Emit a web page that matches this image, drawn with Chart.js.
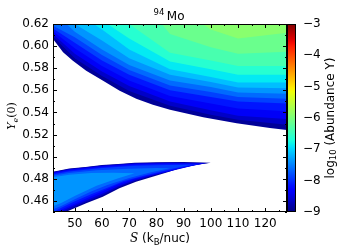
<!DOCTYPE html>
<html>
<head>
<meta charset="utf-8">
<script src="https://cdn.jsdelivr.net/npm/chart.js@4.4.1/dist/chart.umd.min.js"></script>
<style>
  html, body { margin: 0; padding: 0; background: #fff; }
  #wrap { position: relative; width: 357px; height: 250px; }
  #main { position: absolute; left: 0; top: 0; }
  #cbar { position: absolute; left: 287px; top: 0; }
</style>
</head>
<body>
<div id="wrap">
  <canvas id="main" width="357" height="250"></canvas>
  <canvas id="cbar" width="70" height="250"></canvas>
</div>
<script>
// contour levels of log10(Abundance Y) and the value used to colour each band
var levels = [-9, -8.75, -8.5, -8.25, -8, -7.75, -7.5, -7.25, -7, -6.75, -6.5, -6.25, -6];
var bandValues = [-8.875, -8.625, -8.375, -8.125, -7.875, -7.625, -7.375, -7.125, -6.875, -6.625, -6.375, -6.125, -5.9];

// upper region: contour lines as [S, Ye(0)], values rise towards the top
var u900 = [[42, 0.6064], [45.7, 0.5944], [49.3, 0.5868], [54.2, 0.5778], [60.4, 0.5687], [66.5, 0.5597], [72.6, 0.5525], [78.7, 0.5470], [85, 0.5425], [97.2, 0.5356], [109.5, 0.5302], [121.7, 0.5260], [128, 0.5242]];
var u875 = [[42, 0.6088], [50, 0.5890], [60, 0.5730], [70, 0.5595], [85, 0.5460], [100, 0.5380], [110, 0.5335], [128, 0.5290]];
var u850 = [[42, 0.6110], [50, 0.5930], [60, 0.5770], [70, 0.5640], [85, 0.5500], [100, 0.5420], [110, 0.5370], [128, 0.5340]];
var u825 = [[42, 0.6135], [50, 0.5980], [60, 0.5820], [70, 0.5690], [85, 0.5550], [100, 0.5480], [110, 0.5435], [128, 0.5410]];
var u800 = [[42, 0.6160], [50, 0.6030], [60, 0.5870], [70, 0.5740], [85, 0.5600], [100, 0.5540], [110, 0.5500], [128, 0.5480]];
var u775 = [[42, 0.6185], [50, 0.6080], [60, 0.5920], [70, 0.5785], [85, 0.5645], [100, 0.5585], [110, 0.5540], [128, 0.5525]];
var u750 = [[47, 0.6200], [50, 0.6130], [60, 0.5970], [70, 0.5830], [85, 0.5690], [100, 0.5630], [110, 0.5580], [128, 0.5570]];
var u725 = [[50, 0.6200], [60, 0.6050], [70, 0.5890], [85, 0.5740], [100, 0.5675], [110, 0.5625], [128, 0.5620]];
var u700 = [[57, 0.6200], [60, 0.6150], [70, 0.5970], [85, 0.5790], [100, 0.5720], [110, 0.5670], [128, 0.5670]];
var u675 = [[62, 0.6200], [70, 0.6070], [85, 0.5860], [100, 0.5790], [110, 0.5740], [128, 0.5740]];
var u650 = [[70, 0.6200], [85, 0.5940], [100, 0.5870], [110, 0.5820], [128, 0.5820]];
var u625 = [[82, 0.6200], [85, 0.6110], [100, 0.5990], [110, 0.5930], [128, 0.5950]];
var u600 = [[97, 0.6200], [100, 0.6150], [110, 0.6070], [128, 0.6120]];

// lower island: closed contours as [S, Ye(0)]
var l900 = [[42, 0.4865], [48, 0.4893], [54, 0.4908], [60, 0.4925], [66, 0.4935], [72, 0.4945], [80, 0.4950], [90, 0.4953], [100, 0.4946],
  [95, 0.4928], [88.5, 0.4895], [84.7, 0.4864], [78.6, 0.4819], [72.5, 0.4774], [66.4, 0.4714], [60.3, 0.4639], [54.2, 0.4578], [46.9, 0.4503], [44, 0.4470], [42, 0.4450]];
var l875 = [[42, 0.4861], [48, 0.4889], [60, 0.4920], [72, 0.4941], [85, 0.4947], [99, 0.4943],
  [94, 0.4924], [86, 0.4878], [78, 0.4826], [72, 0.4781], [66, 0.4723], [60, 0.4650], [54, 0.4590], [47, 0.4514], [44, 0.4480], [42, 0.4460]];
var l850 = [[42, 0.4856], [48, 0.4884], [60, 0.4915], [72, 0.4936], [85, 0.4943], [98, 0.4940],
  [93, 0.4917], [85, 0.4868], [78, 0.4830], [72, 0.4790], [66, 0.4735], [60, 0.4665], [54, 0.4605], [47, 0.4530], [44, 0.4495], [42, 0.4475]];
var l825 = [[42, 0.4849], [48, 0.4876], [60, 0.4907], [72, 0.4928], [84, 0.4936], [96, 0.4935],
  [90, 0.4905], [80, 0.4848], [72, 0.4800], [66, 0.4750], [60, 0.4685], [54, 0.4620], [48, 0.4555], [44, 0.4510], [42, 0.4485]];
var l800 = [[42, 0.4840], [48, 0.4866], [60, 0.4897], [72, 0.4918], [84, 0.4926], [93, 0.4927],
  [86, 0.4890], [76, 0.4832], [68, 0.4780], [62, 0.4720], [56, 0.4660], [49, 0.4585], [44, 0.4525], [42, 0.4495]];
var l775 = [[42, 0.4828], [48, 0.4852], [58, 0.4877], [70, 0.4892], [80, 0.4898], [85, 0.4895],
  [78, 0.4860], [70, 0.4808], [62, 0.4745], [56, 0.4685], [50, 0.4615], [45, 0.4555], [42, 0.4525]];
var l750 = [[42, 0.4815], [48, 0.4836], [56, 0.4852], [64, 0.4855], [72, 0.4850],
  [66, 0.4805], [58, 0.4738], [50, 0.4645], [45, 0.4582], [42, 0.4552]];

var upperLines = [u900, u875, u850, u825, u800, u775, u750, u725, u700, u675, u650, u625, u600];
var lowerLines = [l900, l875, l850, l825, l800, l775, l750];

// axis ticks
var xTicks = [50, 60, 70, 80, 90, 100, 110, 120];
var xMinor = [45, 55, 65, 75, 85, 95, 105, 115, 125];
var yTicks = [0.46, 0.48, 0.50, 0.52, 0.54, 0.56, 0.58, 0.60, 0.62];
var yMinor = [0.45, 0.47, 0.49, 0.51, 0.53, 0.55, 0.57, 0.59, 0.61];
var cbTicks = [-9, -8, -7, -6, -5, -4, -3];

// matplotlib "jet" colormap
var jetR = [[0, 0], [0.35, 0], [0.66, 1], [0.89, 1], [1, 0.5]];
var jetG = [[0, 0], [0.125, 0], [0.375, 1], [0.64, 1], [0.91, 0], [1, 0]];
var jetB = [[0, 0.5], [0.11, 1], [0.34, 1], [0.65, 0], [1, 0]];
function seg(pts, t) {
  for (var i = 1; i < pts.length; i++) {
    if (t <= pts[i][0]) {
      var a = pts[i - 1], b = pts[i];
      return a[1] + (b[1] - a[1]) * (t - a[0]) / (b[0] - a[0]);
    }
  }
  return pts[pts.length - 1][1];
}
function jet(t) {
  t = Math.max(0, Math.min(1, t));
  return 'rgb(' + Math.round(255 * seg(jetR, t)) + ',' + Math.round(255 * seg(jetG, t)) + ',' + Math.round(255 * seg(jetB, t)) + ')';
}
function colorFor(v) { return jet((v + 9) / 6); }

function toPoints(pts) {
  return pts.map(function(p) { return {x: p[0], y: p[1]}; });
}
// close an upper contour over the top of the plot
function closeTop(pts) {
  var out = toPoints(pts);
  out.push({x: pts[pts.length - 1][0], y: 0.63});
  out.push({x: pts[0][0], y: 0.63});
  return out;
}

var datasets = [];
upperLines.forEach(function(line, i) {
  datasets.push({label: 'upper ' + levels[i], data: closeTop(line), backgroundColor: colorFor(bandValues[i]), order: 50 - i});
});
lowerLines.forEach(function(line, i) {
  datasets.push({label: 'lower ' + levels[i], data: toPoints(line), backgroundColor: colorFor(bandValues[i]), order: 50 - i});
});
datasets.forEach(function(d) {
  d.fill = 'shape';
  d.showLine = true;
  d.pointRadius = 0;
  d.borderWidth = 0;
  d.borderColor = 'rgba(0,0,0,0)';
  d.tension = 0;
});

// draw text made of several runs (sub/superscripts), centred on x
function drawRuns(ctx, runs, x, y) {
  var total = 0;
  runs.forEach(function(r) { ctx.font = r.font; total += ctx.measureText(r.t).width + (r.dx || 0); });
  var cx = x - total / 2;
  runs.forEach(function(r) {
    ctx.font = r.font;
    cx += r.dx || 0;
    ctx.fillText(r.t, cx, y + (r.dy || 0));
    cx += ctx.measureText(r.t).width;
  });
}

function line(ctx, x1, y1, x2, y2) {
  ctx.beginPath();
  ctx.moveTo(x1, y1);
  ctx.lineTo(x2, y2);
  ctx.stroke();
}

var decorations = {
  id: 'decorations',
  afterDraw: function(chart) {
    var ctx = chart.ctx, a = chart.chartArea;
    var xs = chart.scales.x, ys = chart.scales.y;
    ctx.save();
    ctx.strokeStyle = '#000';
    ctx.lineWidth = 1;
    ctx.strokeRect(a.left + 0.5, a.top + 0.5, a.right - a.left - 1, a.bottom - a.top - 1);

    // inward ticks on all four sides
    function xTick(v, len) {
      var px = Math.round(xs.getPixelForValue(v)) + 0.5;
      line(ctx, px, a.bottom, px, a.bottom - len);
      line(ctx, px, a.top, px, a.top + len);
    }
    function yTick(v, len) {
      var py = Math.round(ys.getPixelForValue(v)) + 0.5;
      line(ctx, a.left, py, a.left + len, py);
      line(ctx, a.right, py, a.right - len, py);
    }
    xTicks.forEach(function(v) { xTick(v, 4); });
    xMinor.forEach(function(v) { xTick(v, 2); });
    yTicks.forEach(function(v) { yTick(v, 4); });
    yMinor.forEach(function(v) { yTick(v, 2); });

    ctx.fillStyle = '#000';
    ctx.textBaseline = 'alphabetic';
    ctx.textAlign = 'left';
    // title
    drawRuns(ctx, [
      {t: '94', font: '8.5px "DejaVu Sans"', dy: -5},
      {t: 'Mo', font: '12px "DejaVu Sans"', dx: 2.5}
    ], 169, 19.5);
    // x label
    drawRuns(ctx, [
      {t: 'S', font: 'italic 12px "DejaVu Serif"'},
      {t: ' (k', font: '12px "DejaVu Sans"'},
      {t: 'B', font: '8.5px "DejaVu Sans"', dy: 2.5},
      {t: '/nuc)', font: '12px "DejaVu Sans"'}
    ], 160, 242);
    // y label
    ctx.translate(11, 116);
    ctx.rotate(-Math.PI / 2);
    drawRuns(ctx, [
      {t: 'Y', font: 'italic 11px "DejaVu Serif"'},
      {t: 'e', font: 'italic 8px "DejaVu Serif"', dy: 2.5},
      {t: '(0)', font: '11px "DejaVu Serif"'}
    ], 0, 4);
    ctx.restore();
  }
};

var tickFont = {family: 'DejaVu Sans', size: 12};

new Chart(document.getElementById('main'), {
  type: 'line',
  data: {datasets: datasets},
  options: {
    responsive: false,
    animation: false,
    events: [],
    layout: {padding: {left: 0, top: 24, right: 70, bottom: 0}},
    plugins: {legend: {display: false}, tooltip: {enabled: false}},
    scales: {
      x: {
        type: 'linear',
        min: 42,
        max: 128,
        grid: {display: false, drawTicks: false},
        border: {display: false},
        ticks: {font: tickFont, color: '#000', padding: 5, maxRotation: 0},
        afterBuildTicks: function(scale) { scale.ticks = xTicks.map(function(v) { return {value: v}; }); },
        afterFit: function(scale) { scale.height = 38; }
      },
      y: {
        type: 'linear',
        min: 0.45,
        max: 0.62,
        grid: {display: false, drawTicks: false},
        border: {display: false},
        ticks: {font: tickFont, color: '#000', padding: 4, callback: function(v) { return v.toFixed(2); }},
        afterBuildTicks: function(scale) { scale.ticks = yTicks.map(function(v) { return {value: v}; }); },
        afterFit: function(scale) { scale.width = 53; }
      }
    }
  },
  plugins: [decorations]
});

// colour bar
var colorbar = {
  id: 'colorbar',
  beforeDraw: function(chart) {
    var ctx = chart.ctx, a = chart.chartArea, ys = chart.scales.y;
    var g = ctx.createLinearGradient(0, ys.getPixelForValue(-9), 0, ys.getPixelForValue(-3));
    for (var t = 0; t <= 1.0001; t += 0.02) g.addColorStop(Math.min(t, 1), jet(t));
    ctx.save();
    ctx.fillStyle = g;
    ctx.fillRect(a.left, a.top, a.right - a.left, a.bottom - a.top);
    ctx.restore();
  },
  afterDraw: function(chart) {
    var ctx = chart.ctx, a = chart.chartArea;
    ctx.save();
    ctx.strokeStyle = '#000';
    ctx.lineWidth = 1;
    ctx.strokeRect(a.left + 0.5, a.top + 0.5, a.right - a.left - 1, a.bottom - a.top - 1);
    ctx.fillStyle = '#000';
    ctx.textBaseline = 'alphabetic';
    ctx.translate(42, 118);
    ctx.rotate(-Math.PI / 2);
    drawRuns(ctx, [
      {t: 'log', font: '12px "DejaVu Sans"'},
      {t: '10', font: '8.5px "DejaVu Sans"', dy: 2.5},
      {t: ' (Abundance Y)', font: '12px "DejaVu Sans"'}
    ], 0, 4.5);
    ctx.restore();
  }
};

new Chart(document.getElementById('cbar'), {
  type: 'line',
  data: {datasets: []},
  options: {
    responsive: false,
    animation: false,
    events: [],
    layout: {padding: {left: 0, top: 24, right: 0, bottom: 38}},
    plugins: {legend: {display: false}, tooltip: {enabled: false}},
    scales: {
      x: {type: 'linear', display: false, min: 0, max: 1},
      y: {
        type: 'linear',
        position: 'right',
        min: -9,
        max: -3,
        grid: {display: false, drawTicks: false},
        border: {display: false},
        ticks: {font: tickFont, color: '#000', padding: 7, callback: function(v) { return String(v).replace('-', '\u2212'); }},
        afterBuildTicks: function(scale) { scale.ticks = cbTicks.map(function(v) { return {value: v}; }); },
        afterFit: function(scale) { scale.width = 61; }
      }
    }
  },
  plugins: [colorbar]
});
</script>
</body>
</html>
